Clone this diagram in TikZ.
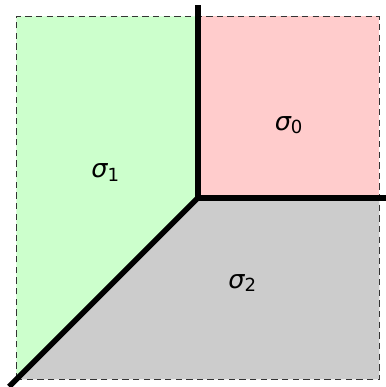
\documentclass[tikz,border=0pt]{standalone}
\usepackage{fontspec}
\newfontfamily\dvs{DejaVu Sans}
\definecolor{regA}{HTML}{FFCCCC}
\definecolor{regB}{HTML}{CCFFCC}
\definecolor{regC}{HTML}{CCCCCC}
\newcommand{\sig}[1]{{\dvs\itshape σ}{\dvs\fontsize{8.5}{9}\selectfont\raisebox{-0.35ex}{#1}}}
\begin{document}
\begin{tikzpicture}[x=3cm,y=3cm,
  wall/.style={line width=2.6pt,black},
  frame/.style={draw=black!80,line width=0.5pt,dash pattern=on 3pt off 2pt},
  lab/.style={font=\dvs\fontsize{12}{14}\selectfont,inner sep=0pt}]
\useasboundingbox (-1.09,-1.042) rectangle (1.036,1.09);
\coordinate (O) at (0,0);
\coordinate (T) at (0,1.06);
\coordinate (R) at (1.06,0);
\coordinate (D) at (-1.04,-1.04);
\fill[regA] (0,0) rectangle (1,1);
\fill[regB] (-1,-1) -- (0,0) -- (0,1) -- (-1,1) -- cycle;
\fill[regC] (-1,-1) -- (1,-1) -- (1,0) -- (0,0) -- cycle;
\draw[frame] (-1,-1) rectangle (1,1);
\draw[wall] (T) -- (O) -- (R);
\draw[wall] (O) -- (D);
\node[lab] (s0) at (0.5,0.40) {\sig{0}};
\node[lab] (s1) at (-0.51,0.14) {\sig{1}};
\node[lab] (s2) at (0.245,-0.47) {\sig{2}};
\end{tikzpicture}
\end{document}
